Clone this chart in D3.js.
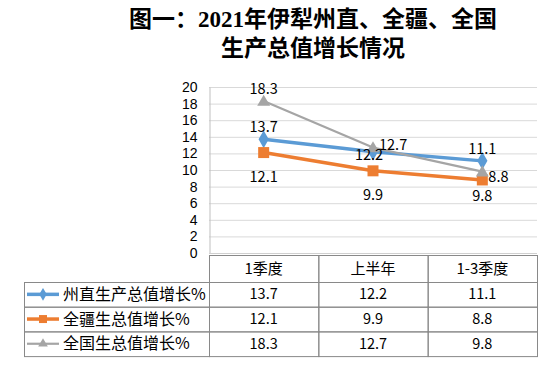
<!DOCTYPE html>
<html>
<head>
<meta charset="utf-8">
<script src="https://cdn.jsdelivr.net/npm/d3@7/dist/d3.min.js"></script>
<style>
  html, body { margin: 0; padding: 0; background: #fff; }
  svg { display: block; font-family: "Noto Sans CJK SC", "Open Sans", sans-serif; }
</style>
</head>
<body>
<div id="chart"></div>
<script>
// ==== Dữ liệu ====
const titleLines = ["图一：2021年伊犁州直、全疆、全国", "生产总值增长情况"];
const categories = ["1季度", "上半年", "1-3季度"];
const seriesNames = ["州直生产总值增长%", "全疆生总值增长%", "全国生总值增长%"];
const zhouzhi = [13.7, 12.2, 11.1];
const quanjiang = [12.1, 9.9, 8.8];
const quanguo = [18.3, 12.7, 9.8];
const yTicks = [0, 2, 4, 6, 8, 10, 12, 14, 16, 18, 20];

// vị trí nhãn giá trị (kiểu Excel)
const labelPos = [
  ["above", "center", "above"],
  ["below", "below", "right"],
  ["above", "right", "below"]
];

const series = [
  { name: seriesNames[0], values: zhouzhi, color: "#5b9bd5", width: 3.5, marker: "diamond" },
  { name: seriesNames[1], values: quanjiang, color: "#ed7d31", width: 3.5, marker: "square" },
  { name: seriesNames[2], values: quanguo, color: "#a5a5a5", width: 2.2, marker: "triangle" }
];

const W = 552, H = 374;
const svg = d3.select("#chart").append("svg").attr("width", W).attr("height", H);

// ==== Tiêu đề ====
svg.append("g").selectAll("text")
  .data(titleLines)
  .enter().append("text")
    .attr("x", 313)
    .attr("y", (d, i) => 27 + i * 28.5)
    .attr("text-anchor", "middle")
    .style("font-family", "\"Liberation Serif\", \"Noto Sans CJK SC\", serif")
    .style("font-weight", "bold")
    .style("font-size", "23px")
    .attr("fill", "#000")
    .text(d => d);

// ==== Scales ====
const x = d3.scaleBand().domain(categories).range([209, 537]);
const y = d3.scaleLinear().domain([0, 20]).range([253, 87]);
const cx = c => x(c) + x.bandwidth() / 2;

// lưới ngang
svg.append("g").selectAll("line")
  .data(yTicks.filter(t => t > 0))
  .enter().append("line")
    .attr("x1", 209).attr("x2", 537)
    .attr("y1", d => y(d) + 0.5).attr("y2", d => y(d) + 0.5)
    .attr("stroke", "#d9d9d9").attr("stroke-width", 1);

// trục Y
const yAxis = svg.append("g")
  .attr("transform", "translate(209.5,0)")
  .call(d3.axisLeft(y).tickValues(yTicks).tickSize(0).tickPadding(12));
yAxis.select(".domain").attr("stroke", "#bfbfbf");
yAxis.selectAll("text")
  .style("font-family", "\"Liberation Sans\", sans-serif")
  .style("font-size", "14px")
  .attr("fill", "#000");

// trục X (đường đáy)
svg.append("line")
  .attr("x1", 209).attr("x2", 537)
  .attr("y1", y(0) + 0.5).attr("y2", y(0) + 0.5)
  .attr("stroke", "#d0d0d0");

// ==== Marker ====
function markerPath(type, s) {
  if (type === "diamond") return d3.symbol(d3.symbolDiamond, s * s * 0.75)();
  if (type === "square") return d3.symbol(d3.symbolSquare, s * s)();
  return d3.symbol(d3.symbolTriangle, s * s * 0.5)();
}
const markerSize = { diamond: 11, square: 11, triangle: 12 };

// ==== Đường ====
const line = d3.line()
  .x((d, i) => cx(categories[i]))
  .y(d => y(d));

series.forEach(s => {
  svg.append("path")
    .datum(s.values)
    .attr("d", line)
    .attr("fill", "none")
    .attr("stroke", s.color)
    .attr("stroke-width", s.width)
    .attr("stroke-linejoin", "round");
});
series.forEach(s => {
  svg.append("g").selectAll("path")
    .data(s.values)
    .enter().append("path")
      .attr("d", markerPath(s.marker, markerSize[s.marker]))
      .attr("transform", (d, i) => `translate(${cx(categories[i])},${y(d) + (s.marker === "triangle" ? 1 : 0)})`)
      .attr("fill", s.color);
});

// ==== Nhãn giá trị ====
const offs = {
  above: { dx: 0, dy: -12, anchor: "middle" },
  below: { dx: 0, dy: 24, anchor: "middle" },
  right: { dx: 6, dy: -3, anchor: "start" },
  center: { dx: -4, dy: 3, anchor: "middle" }
};
series.forEach((s, si) => {
  svg.append("g").selectAll("text")
    .data(s.values)
    .enter().append("text")
      .attr("x", (d, i) => cx(categories[i]) + offs[labelPos[si][i]].dx)
      .attr("y", (d, i) => y(d) + offs[labelPos[si][i]].dy)
      .attr("dy", "0.35em")
      .attr("text-anchor", (d, i) => offs[labelPos[si][i]].anchor)
      .style("font-size", "14.5px")
      .attr("fill", "#000")
      .text(d => d3.format(".1f")(d));
});

// ==== Bảng dữ liệu ====
const tableLeft = 24, headTop = 255, headH = 27, rowH = 24.7;
const border = "#898989";
const tg = svg.append("g");

// header
categories.forEach(c => {
  tg.append("rect")
    .attr("x", x(c) + 0.5).attr("y", headTop + 0.5)
    .attr("width", x.bandwidth()).attr("height", headH)
    .attr("fill", "none").attr("stroke", border);
  tg.append("text")
    .attr("x", cx(c)).attr("y", headTop + headH / 2)
    .attr("dy", "0.35em").attr("text-anchor", "middle")
    .style("font-size", "15px").attr("fill", "#000")
    .text(c);
});

series.forEach((s, si) => {
  const top = headTop + headH + si * rowH;
  tg.append("rect")
    .attr("x", tableLeft + 0.5).attr("y", top + 0.5)
    .attr("width", 209 - tableLeft).attr("height", rowH)
    .attr("fill", "none").attr("stroke", border);
  // khóa chú giải
  tg.append("line")
    .attr("x1", tableLeft + 3).attr("x2", tableLeft + 35)
    .attr("y1", top + rowH / 2).attr("y2", top + rowH / 2)
    .attr("stroke", s.color).attr("stroke-width", s.width);
  tg.append("path")
    .attr("d", markerPath(s.marker, s.marker === "triangle" ? 9 : 8))
    .attr("transform", `translate(${tableLeft + 19},${top + rowH / 2})`)
    .attr("fill", s.color);
  tg.append("text")
    .attr("x", tableLeft + 39).attr("y", top + rowH / 2)
    .attr("dy", "0.35em")
    .style("font-size", "16px").attr("fill", "#000")
    .text(s.name);

  s.values.forEach((v, i) => {
    const c = categories[i];
    tg.append("rect")
      .attr("x", x(c) + 0.5).attr("y", top + 0.5)
      .attr("width", x.bandwidth()).attr("height", rowH)
      .attr("fill", "none").attr("stroke", border);
    tg.append("text")
      .attr("x", cx(c)).attr("y", top + rowH / 2)
      .attr("dy", "0.35em").attr("text-anchor", "middle")
      .style("font-size", "14.5px").attr("fill", "#000")
      .text(d3.format(".1f")(v));
  });
});
</script>
</body>
</html>
